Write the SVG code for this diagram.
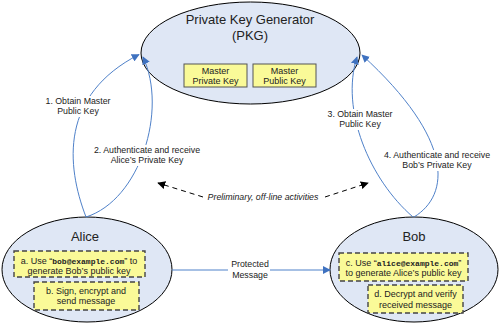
<svg xmlns="http://www.w3.org/2000/svg" width="500" height="323" viewBox="0 0 500 323">
<style>
.ell{fill:#dfe7f5;stroke:#000;stroke-width:1}
.mbox{fill:#fafa98;stroke:#555;stroke-width:1}
.dbox{fill:#fafa98;stroke:#444;stroke-width:1.4;stroke-dasharray:5,3}
text{font-family:"Liberation Sans",Arial,sans-serif;fill:#222}
.title{font-size:13px}
.sm{font-size:9px}
.lbl{font-size:8.8px}
.mono{font-family:"Liberation Mono","Courier New",monospace;font-weight:bold;font-size:8px}
.blue{fill:none;stroke:#4f81c9;stroke-width:1}
.dash{fill:none;stroke:#000;stroke-width:1;stroke-dasharray:5,4}
.bg{fill:#fff}
</style>
<defs>
<marker id="ab" viewBox="0 0 10 10" refX="9" refY="5" markerWidth="8" markerHeight="8" markerUnits="userSpaceOnUse" orient="auto">
<path d="M0,0 L10,5 L0,10 z" fill="#3f72c0"/>
</marker>
<marker id="ak" viewBox="0 0 10 10" refX="9" refY="5" markerWidth="8" markerHeight="8" markerUnits="userSpaceOnUse" orient="auto">
<path d="M0,0 L10,5 L0,10 z" fill="#000"/>
</marker>
</defs>

<g id="pkg">
<ellipse class="ell" cx="250.5" cy="53" rx="109.5" ry="51"/>
<text class="title" x="250" y="24" text-anchor="middle">Private Key Generator</text>
<text class="title" x="250" y="40" text-anchor="middle">(PKG)</text>
<rect class="mbox" x="184" y="64" width="63" height="23"/>
<text class="sm" x="215.5" y="73.5" text-anchor="middle">Master</text>
<text class="sm" x="215.5" y="83.5" text-anchor="middle">Private Key</text>
<rect class="mbox" x="253" y="64" width="63" height="23"/>
<text class="sm" x="284.5" y="73.5" text-anchor="middle">Master</text>
<text class="sm" x="284.5" y="83.5" text-anchor="middle">Public Key</text>
</g>

<g id="alice">
<ellipse class="ell" cx="87" cy="269.5" rx="85" ry="52.5"/>
<text class="title" x="85" y="241" text-anchor="middle">Alice</text>
<rect class="dbox" x="14" y="251" width="131" height="26"/>
<text class="sm" x="79" y="263.5" text-anchor="middle">a. Use “<tspan class="mono">bob@example.com</tspan>” to</text>
<text class="sm" x="79" y="273.8" text-anchor="middle">generate Bob’s public key</text>
<rect class="dbox" x="34" y="282" width="105" height="28"/>
<text class="sm" x="86" y="293.8" text-anchor="middle">b. Sign, encrypt and</text>
<text class="sm" x="86" y="304" text-anchor="middle">send message</text>
</g>

<g id="bob">
<ellipse class="ell" cx="414" cy="269.5" rx="84" ry="52.5"/>
<text class="title" x="414" y="241" text-anchor="middle">Bob</text>
<rect class="dbox" x="339" y="253" width="129" height="28"/>
<text class="sm" x="403.5" y="265.5" text-anchor="middle">c. Use “<tspan class="mono">alice@example.com</tspan>”</text>
<text class="sm" x="403.5" y="276" text-anchor="middle">to generate Alice’s public key</text>
<rect class="dbox" x="368" y="285" width="95" height="28"/>
<text class="sm" x="415.5" y="297" text-anchor="middle">d. Decrypt and verify</text>
<text class="sm" x="415.5" y="307.5" text-anchor="middle">received message</text>
</g>

<g id="connectors">
<path class="blue" d="M86,217 C66,165 60,95 139,54.5" marker-end="url(#ab)"/>
<path class="blue" d="M86,217 C140,200 168,110 143,57" marker-end="url(#ab)"/>
<path class="blue" d="M413,217 C370,180 340,110 357,57" marker-end="url(#ab)"/>
<path class="blue" d="M414,217 C450,195 455,140 362,55" marker-end="url(#ab)"/>
<path class="blue" d="M172,270 L330,270" marker-end="url(#ab)"/>
<path class="dash" d="M203,197 L158,183" marker-end="url(#ak)"/>
<path class="dash" d="M325,197 L368,183" marker-end="url(#ak)"/>

<rect class="bg" x="45" y="96" width="66" height="21"/>
<text class="lbl" x="78" y="104" text-anchor="middle">1. Obtain Master</text>
<text class="lbl" x="78" y="114" text-anchor="middle">Public Key</text>

<rect class="bg" x="93" y="145" width="109" height="21"/>
<text class="lbl" x="147" y="153" text-anchor="middle">2. Authenticate and receive</text>
<text class="lbl" x="147" y="163" text-anchor="middle">Alice’s Private Key</text>

<rect class="bg" x="327" y="109" width="66" height="21"/>
<text class="lbl" x="360" y="117" text-anchor="middle">3. Obtain Master</text>
<text class="lbl" x="360" y="127" text-anchor="middle">Public Key</text>

<rect class="bg" x="383" y="150" width="109" height="21"/>
<text class="lbl" x="437" y="158" text-anchor="middle">4. Authenticate and receive</text>
<text class="lbl" x="437" y="168" text-anchor="middle">Bob’s Private Key</text>

<rect class="bg" x="228" y="258" width="42" height="21"/>
<text class="lbl" x="250" y="267" text-anchor="middle">Protected</text>
<text class="lbl" x="250" y="277.5" text-anchor="middle">Message</text>

<text class="lbl" x="263" y="200" text-anchor="middle" font-style="italic">Preliminary, off-line activities</text>
</g>
</svg>
